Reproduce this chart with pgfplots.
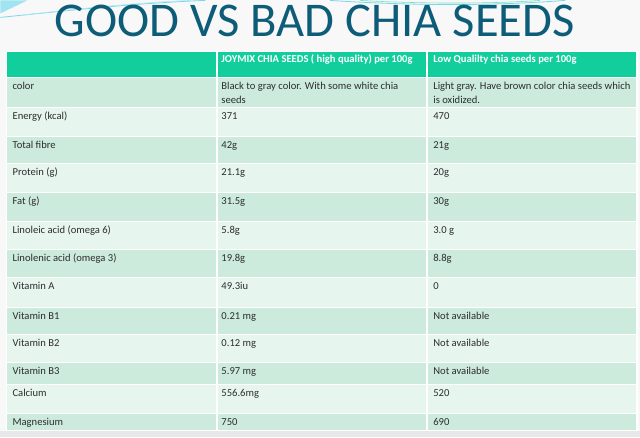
\documentclass[border=0pt]{standalone}
\usepackage{fontspec}
\setmainfont{Carlito}
\usepackage{pgfplots}
\pgfplotsset{compat=1.18}
\definecolor{hdr}{RGB}{18,206,156}
\definecolor{rowD}{RGB}{204,235,221}
\definecolor{rowL}{RGB}{231,245,239}
\definecolor{ttl}{RGB}{13,92,120}
\definecolor{txt}{RGB}{45,45,45}
\definecolor{bg}{RGB}{248,248,248}
\definecolor{strip}{RGB}{232,232,232}
\definecolor{swoosh}{RGB}{120,215,235}
\newcommand{\cellrow}[3]{\addplot[fill=#3, draw=white, line width=1.2bp] coordinates {(6,#1) (637,#1) (637,#2) (6,#2)} -- cycle;}
\newcommand{\fs}{\fontsize{10.6bp}{13.5bp}\selectfont}
\begin{document}
\begin{tikzpicture}
\begin{axis}[
  scale only axis, width=640bp, height=437bp,
  xmin=0, xmax=640, ymin=0, ymax=437, y dir=reverse,
  hide axis, clip=false,
]
% background
\addplot[fill=bg, draw=none] coordinates {(0,0) (640,0) (640,437) (0,437)} -- cycle;
\addplot[fill=strip, draw=none] coordinates {(0,431) (640,431) (640,437) (0,437)} -- cycle;
% decorative swooshes
\addplot[fill=swoosh!70, draw=none] coordinates {(0,0) (27,0) (0,13)} -- cycle;
\draw[swoosh, line width=0.8bp] (axis cs:0,17) .. controls (axis cs:60,11) and (axis cs:130,3) .. (axis cs:205,0);
\draw[swoosh!60, line width=0.6bp] (axis cs:20,15) .. controls (axis cs:80,8) and (axis cs:140,2) .. (axis cs:190,0);
\draw[swoosh, line width=0.8bp] (axis cs:330,0) .. controls (axis cs:420,6) and (axis cs:500,5) .. (axis cs:565,0);
\draw[hdr!60, line width=0.6bp] (axis cs:360,0) .. controls (axis cs:430,4) and (axis cs:500,3) .. (axis cs:540,0);
% rows
\cellrow{51}{77.5}{hdr}
\cellrow{77.5}{107.5}{rowD}
\cellrow{107.5}{136.5}{rowL}
\cellrow{136.5}{163.5}{rowD}
\cellrow{163.5}{192.5}{rowL}
\cellrow{192.5}{221.5}{rowD}
\cellrow{221.5}{249.5}{rowL}
\cellrow{249.5}{277.5}{rowD}
\cellrow{277.5}{307.5}{rowL}
\cellrow{307.5}{334.5}{rowD}
\cellrow{334.5}{362.5}{rowL}
\cellrow{362.5}{384.5}{rowD}
\cellrow{384.5}{413.5}{rowL}
\cellrow{413.5}{430.5}{rowD}
% column separators
\addplot[white, line width=1.5bp] coordinates {(216.5,51) (216.5,430.5)};
\addplot[white, line width=1.5bp] coordinates {(427,51) (427,430.5)};
% title
\node[anchor=base, text=ttl, font=\fontsize{48.5bp}{52bp}\selectfont, inner sep=0pt] at (axis cs:314.5,36.5) {GOOD VS BAD CHIA SEEDS};
% header
\node[anchor=base west, inner sep=0pt, text=white, font=\fs\bfseries] at (axis cs:221,62.5) {JOYMIX CHIA SEEDS ( high quality) per 100g};
\node[anchor=base west, inner sep=0pt, text=white, font=\fs\bfseries] at (axis cs:433,62.5) {Low Qualilty chia seeds per 100g};
% body
\newcommand{\bodyrow}[4]{%
  \node[anchor=base west, inner sep=0pt, text=txt, font=\fs] at (axis cs:12,#1) {#2};
  \node[anchor=base west, inner sep=0pt, text=txt, font=\fs] at (axis cs:221,#1) {#3};
  \node[anchor=base west, inner sep=0pt, text=txt, font=\fs] at (axis cs:433,#1) {#4};}
\bodyrow{89.5}{color}{Black to gray color. With some white chia}{Light gray. Have brown color chia seeds which}
\node[anchor=base west, inner sep=0pt, text=txt, font=\fs] at (axis cs:221,103) {seeds};
\node[anchor=base west, inner sep=0pt, text=txt, font=\fs] at (axis cs:433,103) {is oxidized.};
\bodyrow{119.5}{Energy (kcal)}{371}{470}
\bodyrow{148}{Total fibre}{42g}{21g}
\bodyrow{175.5}{Protein (g)}{21.1g}{20g}
\bodyrow{204}{Fat (g)}{31.5g}{30g}
\bodyrow{233}{Linoleic acid (omega 6)}{5.8g}{3.0 g}
\bodyrow{261.5}{Linolenic acid (omega 3)}{19.8g}{8.8g}
\bodyrow{289.5}{Vitamin A}{49.3iu}{0}
\bodyrow{319}{Vitamin B1}{0.21 mg}{Not available}
\bodyrow{346.5}{Vitamin B2}{0.12 mg}{Not available}
\bodyrow{374}{Vitamin B3}{5.97 mg}{Not available}
\bodyrow{396.5}{Calcium}{556.6mg}{520}
\bodyrow{425}{Magnesium}{750}{690}
\end{axis}
\end{tikzpicture}
\end{document}
